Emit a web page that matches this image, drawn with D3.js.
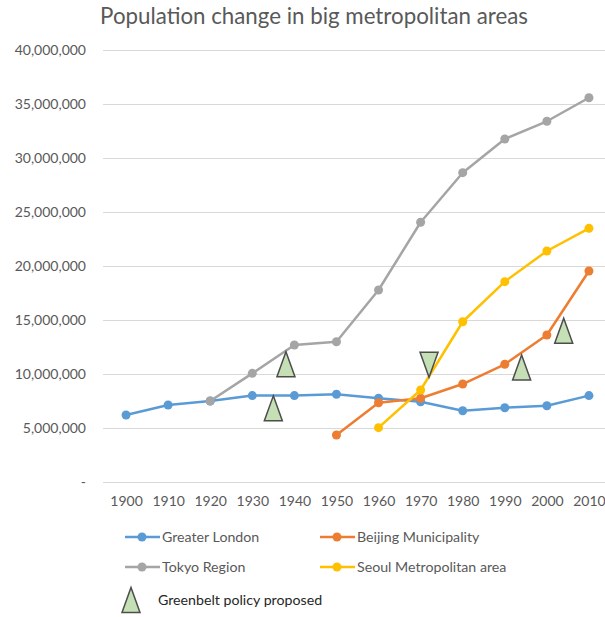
<!DOCTYPE html>
<html>
<head>
<meta charset="utf-8">
<script src="https://cdn.jsdelivr.net/npm/d3@7"></script>
<style>
  body { margin: 0; background: #fff; }
  svg { display: block; font-family: Lato, "Open Sans", sans-serif; }
</style>
</head>
<body>
<svg id="chart" width="605" height="617"></svg>
<script>
// values
const years = [1900, 1910, 1920, 1930, 1940, 1950, 1960, 1970, 1980, 1990, 2000, 2010];
const london  = [6200000, 7130000, 7500000, 8000000, 8000000, 8120000, 7750000, 7430000, 6600000, 6880000, 7060000, 8000000];
const beijing = [null, null, null, null, null, 4350000, 7340000, 7750000, 9070000, 10900000, 13610000, 19540000];
const tokyo   = [null, null, 7500000, 10060000, 12690000, 12990000, 17780000, 24050000, 28640000, 31760000, 33400000, 35580000];
const seoul   = [null, null, null, null, null, null, 5030000, 8520000, 14840000, 18550000, 21390000, 23490000];

const seriesNames = ['Greater London', 'Beijing Municipality', 'Tokyo Region', 'Seoul Metropolitan area'];
const seriesColors = ['#5B9BD5', '#ED7D31', '#A5A5A5', '#FFC000'];

// greenbelt markers: year, value, pointing direction
const greenbeltYears  = [1935, 1938, 1972, 1994, 2004];
const greenbeltValues = [6820000, 10900000, 10860000, 10600000, 14000000];
const greenbeltDirs   = ['up', 'up', 'down', 'up', 'up'];

const yTicks = [0, 5000000, 10000000, 15000000, 20000000, 25000000, 30000000, 35000000, 40000000];
const yTickLabels = ['-', '5,000,000', '10,000,000', '15,000,000', '20,000,000', '25,000,000', '30,000,000', '35,000,000', '40,000,000'];

const svg = d3.select('#chart');
const plotLeft = 105, plotRight = 610, plotTop = 50, plotBottom = 482;

const x = d3.scaleLinear().domain([1895, 2015]).range([plotLeft, plotRight]);
const y = d3.scaleLinear().domain([0, 40000000]).range([plotBottom, plotTop]);

svg.append('text')
  .attr('x', 314).attr('y', 24)
  .attr('text-anchor', 'middle')
  .style('font-size', '22.3px')
  .style('fill', '#595959')
  .text('Population change in big metropolitan areas');

// gridlines + y labels
const yAxis = svg.append('g')
  .attr('transform', `translate(${plotLeft - 2},0)`)
  .call(d3.axisLeft(y).tickValues(yTicks)
    .tickSize(-(605 - plotLeft + 2))
    .tickPadding(17)
    .tickFormat((d, i) => yTickLabels[i]));
yAxis.select('.domain').remove();
yAxis.selectAll('.tick line').attr('stroke', '#d9d9d9').attr('stroke-width', 1);
yAxis.selectAll('.tick text')
  .style('font-size', '14px')
  .style('fill', '#595959')
  .style('font-family', 'Lato, sans-serif');

// x labels
const xAxis = svg.append('g')
  .attr('transform', `translate(0,${plotBottom})`)
  .call(d3.axisBottom(x).tickValues(years).tickSize(0).tickPadding(14).tickFormat(d3.format('d')));
xAxis.select('.domain').remove();
xAxis.selectAll('.tick text')
  .style('font-size', '14px')
  .style('fill', '#595959')
  .style('font-family', 'Lato, sans-serif');

const allSeries = [london, beijing, tokyo, seoul];

const line = d3.line()
  .defined(d => d.v != null)
  .x(d => x(d.year))
  .y(d => y(d.v));

allSeries.forEach((vals, si) => {
  const pts = years.map((yr, i) => ({year: yr, v: vals[i]}));
  const g = svg.append('g');
  g.append('path')
    .datum(pts)
    .attr('d', line)
    .attr('fill', 'none')
    .attr('stroke', seriesColors[si])
    .attr('stroke-width', 2.5)
    .attr('stroke-linejoin', 'round');
  g.selectAll('circle')
    .data(pts.filter(d => d.v != null))
    .join('circle')
    .attr('cx', d => x(d.year))
    .attr('cy', d => y(d.v))
    .attr('r', 4.5)
    .attr('fill', seriesColors[si]);
});

// triangles
const triW = 18, triH = 25;
function triPath(cx, cy, dir) {
  const h = triH / 2, w = triW / 2;
  return dir === 'up'
    ? `M${cx},${cy - h}L${cx + w},${cy + h}L${cx - w},${cy + h}Z`
    : `M${cx},${cy + h}L${cx + w},${cy - h}L${cx - w},${cy - h}Z`;
}
svg.append('g').selectAll('path')
  .data(greenbeltYears.map((yr, i) => ({year: yr, v: greenbeltValues[i], dir: greenbeltDirs[i]})))
  .join('path')
  .attr('d', d => triPath(x(d.year), y(d.v), d.dir))
  .attr('fill', '#C5E0B4')
  .attr('stroke', '#4d4d4d')
  .attr('stroke-width', 1.5);

// legend
const legendPos = [[125, 537], [320, 537], [125, 567], [320, 567]];
const legend = svg.append('g');
seriesNames.forEach((name, i) => {
  const [lx, ly] = legendPos[i];
  legend.append('line')
    .attr('x1', lx).attr('x2', lx + 35)
    .attr('y1', ly).attr('y2', ly)
    .attr('stroke', seriesColors[i]).attr('stroke-width', 2.5);
  legend.append('circle')
    .attr('cx', lx + 17).attr('cy', ly).attr('r', 4.5)
    .attr('fill', seriesColors[i]);
  legend.append('text')
    .attr('x', lx + 37).attr('y', ly + 5)
    .style('font-size', '14.2px')
    .style('fill', '#595959')
    .text(name);
});
legend.append('path')
  .attr('d', triPath(131, 600, 'up'))
  .attr('fill', '#C5E0B4')
  .attr('stroke', '#4d4d4d')
  .attr('stroke-width', 1.5);
legend.append('text')
  .attr('x', 158).attr('y', 605)
  .style('font-size', '14.2px')
  .style('fill', '#262626')
  .text('Greenbelt policy proposed');
</script>
</body>
</html>
